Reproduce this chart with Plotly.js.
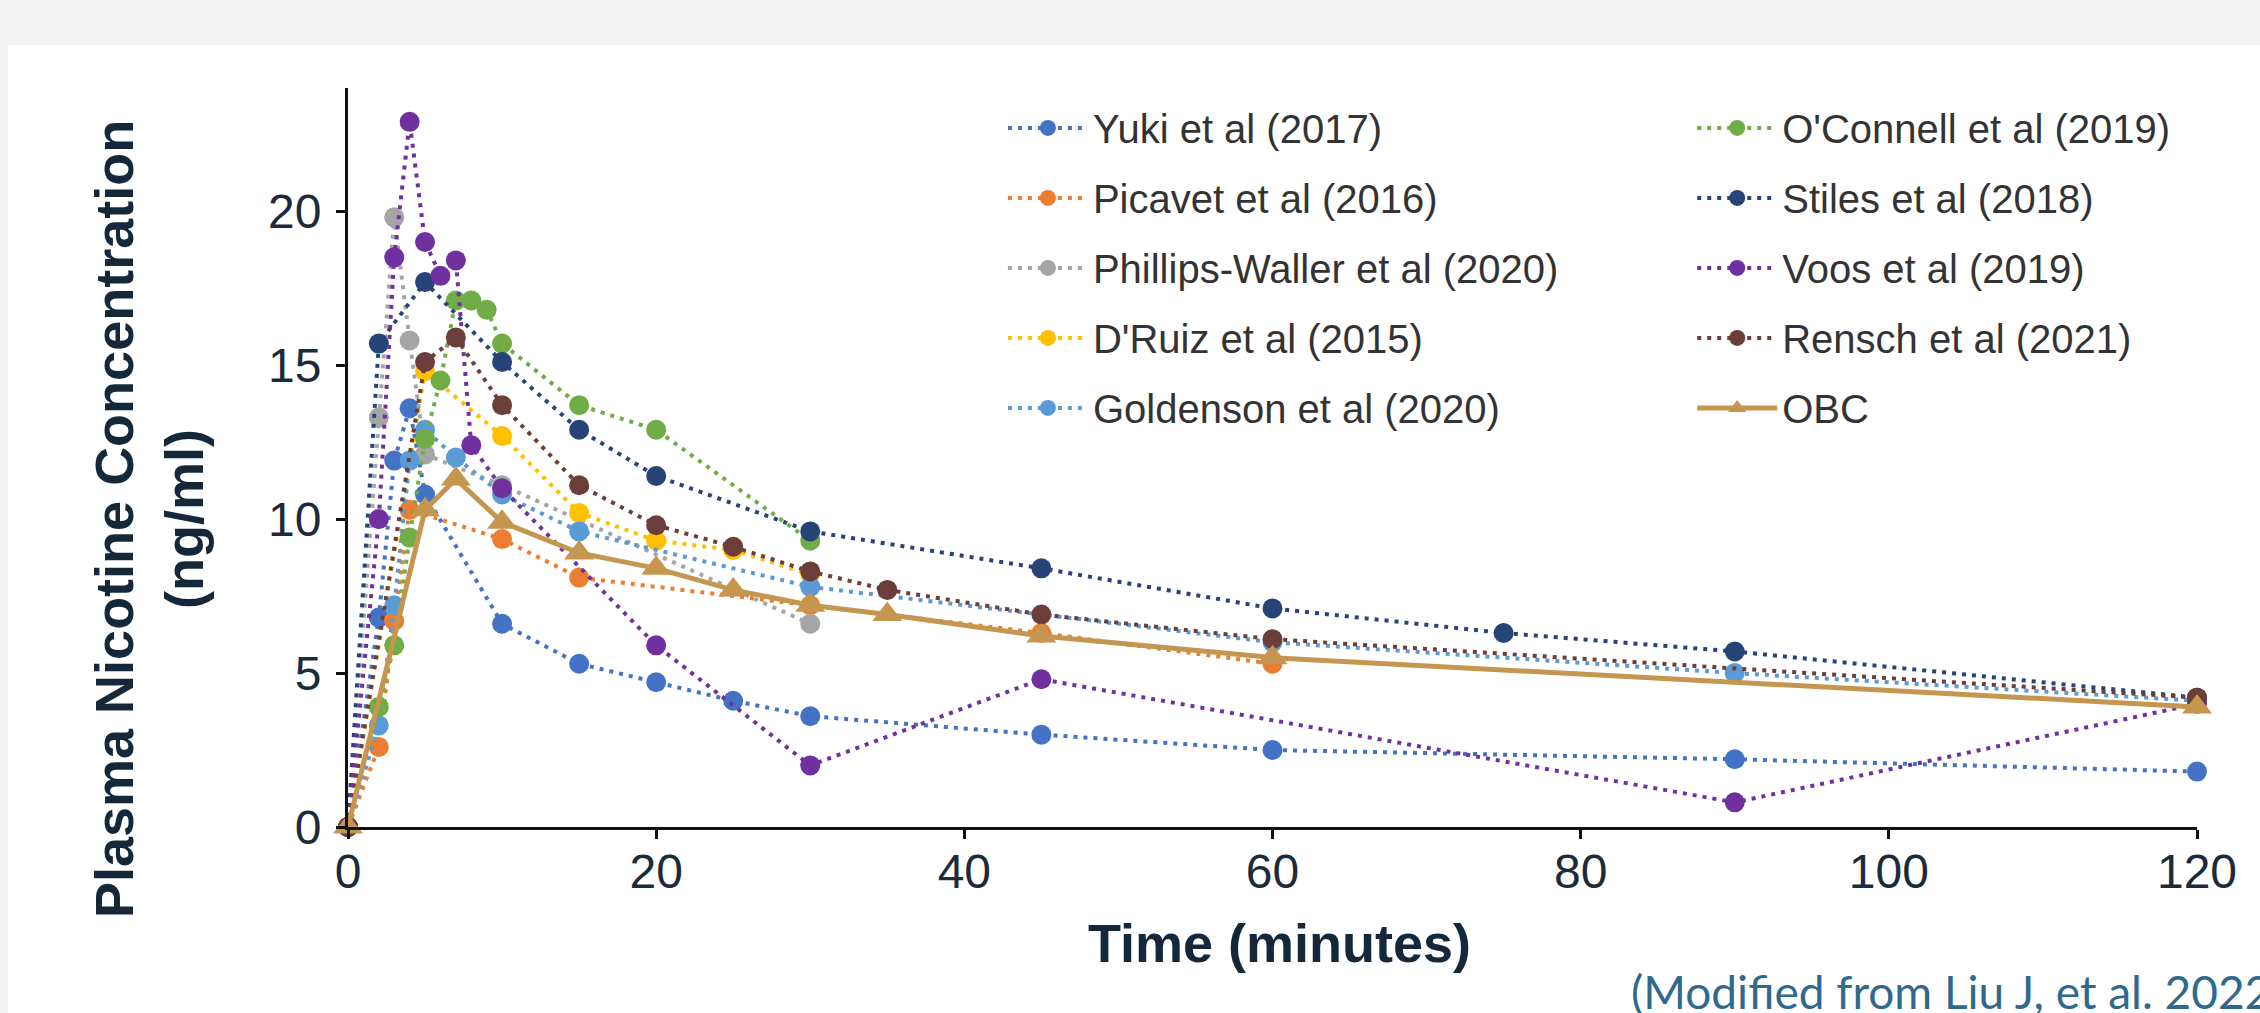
<!DOCTYPE html>
<html><head><meta charset="utf-8">
<script src="https://cdn.plot.ly/plotly-3.0.1.min.js"></script>
<style>
html,body{margin:0;padding:0;background:#f2f2f2;width:2260px;height:1013px;overflow:hidden}
#chart{position:absolute;left:8px;top:45px;width:2252px;height:968px;background:#fff}
</style></head><body><div id="chart"></div>
<script>
// ---- data (time in minutes, plasma nicotine ng/ml) ----
const seriesNames = ["Yuki et al (2017)","Picavet et al (2016)","Phillips-Waller et al (2020)","D'Ruiz et al (2015)","Goldenson et al (2020)","O'Connell et al (2019)","Stiles et al (2018)","Voos et al (2019)","Rensch et al (2021)","OBC"];

const yukiT = [0,2,3,4,5,10,15,20,25,30,45,60,90,120];
const yukiC = [0,6.8,11.9,13.6,10.8,6.6,5.3,4.7,4.1,3.6,3.0,2.5,2.2,1.8];

const picavetT = [0,2,3,4,10,15,30,45,60];
const picavetC = [0,2.6,6.7,10.3,9.35,8.1,7.2,6.3,5.3];

const phillipsT = [0,2,3,4,5,10,30];
const phillipsC = [0,13.3,19.8,15.8,12.1,11.1,6.6];

const druizT = [0,5,10,15,20,25,30];
const druizC = [0,14.8,12.7,10.2,9.3,9.0,8.2];

const goldensonT = [0,2,3,4,5,7,10,15,30,60,90,120];
const goldensonC = [0,3.3,7.2,11.9,12.9,12.0,10.8,9.6,7.8,6.0,5.0,4.1];

const oconnellT = [0,2,3,4,5,6,7,8,9,10,15,20,30];
const oconnellC = [0,3.9,5.9,9.4,12.6,14.5,17.1,17.1,16.8,15.7,13.7,12.9,9.3];

const stilesT = [0,2,5,10,15,20,30,45,60,75,90,120];
const stilesC = [0,15.7,17.7,15.1,12.9,11.4,9.6,8.4,7.1,6.3,5.7,4.2];

const voosT = [0,2,3,4,5,6,7,8,10,20,30,45,90,120];
const voosC = [0,10.0,18.5,22.9,19.0,17.9,18.4,12.4,11.0,5.9,2.0,4.8,0.8,4.0];

const renschT = [0,5,7,10,15,20,25,30,35,45,60,120];
const renschC = [0,15.1,15.9,13.7,11.1,9.8,9.1,8.3,7.7,6.9,6.1,4.2];

const obcT = [0,5,7,10,15,20,25,30,35,45,60,120];
const obcC = [0,10.3,11.3,9.9,8.9,8.4,7.7,7.2,6.9,6.2,5.5,3.9];

const xTicks = [0,20,40,60,80,100,120];
const yTicks = [0,5,10,15,20];

const colors = ["#4472C4","#ED7D31","#A5A5A5","#FFC000","#5B9BD5","#70AD47","#264478","#7030A0","#6B3E3A","#C4964F"];

// ---- traces ----
const sets = [
  [yukiT,yukiC],[picavetT,picavetC],[phillipsT,phillipsC],[druizT,druizC],[goldensonT,goldensonC],
  [oconnellT,oconnellC],[stilesT,stilesC],[voosT,voosC],[renschT,renschC],[obcT,obcC]
];
const traces = [];
// small red start mark at origin (visible under OBC triangle)
traces.push({x:[obcT[0]], y:[obcC[0]], mode:'markers', type:'scatter', showlegend:false, hoverinfo:'skip',
  cliponaxis:false, marker:{symbol:'square', size:14, color:'#d0201a'}});
sets.forEach((s,i)=>{
  const isOBC = i===9;
  traces.push({
    x:s[0], y:s[1], type:'scatter', mode:'lines+markers', name:seriesNames[i],
    legend: i<5 ? 'legend' : 'legend2', legendgroup:'g'+i,
    cliponaxis:false,
    line: isOBC ? {color:colors[i], width:5} : {color:colors[i], width:4, dash:'4px,6px'},
    marker: isOBC ? {symbol:'triangle-up', size:26, color:colors[i]} : {symbol:'circle', size:20, color:colors[i]}
  });
});

const tickFont = {family:'Liberation Sans, Arial, sans-serif', size:48, color:'#1b2b3a'};
const axisCommon = {showgrid:false, zeroline:false, showline:true, linecolor:'#111', linewidth:3,
  ticks:'outside', ticklen:9, tickwidth:3, tickcolor:'#111', tickfont:tickFont, fixedrange:true};

const legendCommon = {xanchor:'left', yanchor:'top', bgcolor:'rgba(0,0,0,0)', borderwidth:0,
  font:{family:'Liberation Sans, Arial, sans-serif', size:40, color:'#333'},
  itemwidth:80, tracegroupgap:15, traceorder:'grouped', itemsizing:'trace'};

const layout = {
  width:2252, height:968,
  margin:{l:340, r:63, t:43, b:186},
  paper_bgcolor:'#ffffff', plot_bgcolor:'#ffffff',
  showlegend:true,
  xaxis:Object.assign({range:[0,120], tickvals:xTicks, ticklabelstandoff:-9}, axisCommon),
  yaxis:Object.assign({range:[0,24], tickvals:yTicks, ticklabelstandoff:5}, axisCommon),
  legend:Object.assign({x:0.3542, y:0.99}, legendCommon),
  legend2:Object.assign({x:0.727, y:0.99}, legendCommon),
  annotations:[
    {text:'<b>Time (minutes)</b>', xref:'paper', yref:'paper', x:0.504, y:-0.157, xanchor:'center', yanchor:'middle',
     showarrow:false, font:{family:'Liberation Sans, Arial, sans-serif', size:54, color:'#14283a'}},
    {text:'<b>Plasma Nicotine Concentration</b><br><b>(ng/ml)</b>', xref:'paper', yref:'paper', x:-0.1076, y:0.4168,
     xanchor:'center', yanchor:'middle', textangle:-90, showarrow:false,
     font:{family:'Liberation Sans, Arial, sans-serif', size:54, color:'#14283a'}},
    {text:'(Modified from Liu J, et al. 2022', xref:'paper', yref:'paper', x:0.6928, y:-0.222, xanchor:'left', yanchor:'middle',
     showarrow:false, font:{family:'Lato, Open Sans, sans-serif', size:46, color:'#2f6a8c'}}
  ]
};

Plotly.newPlot('chart', traces, layout, {displayModeBar:false, staticPlot:true});
</script></body></html>
